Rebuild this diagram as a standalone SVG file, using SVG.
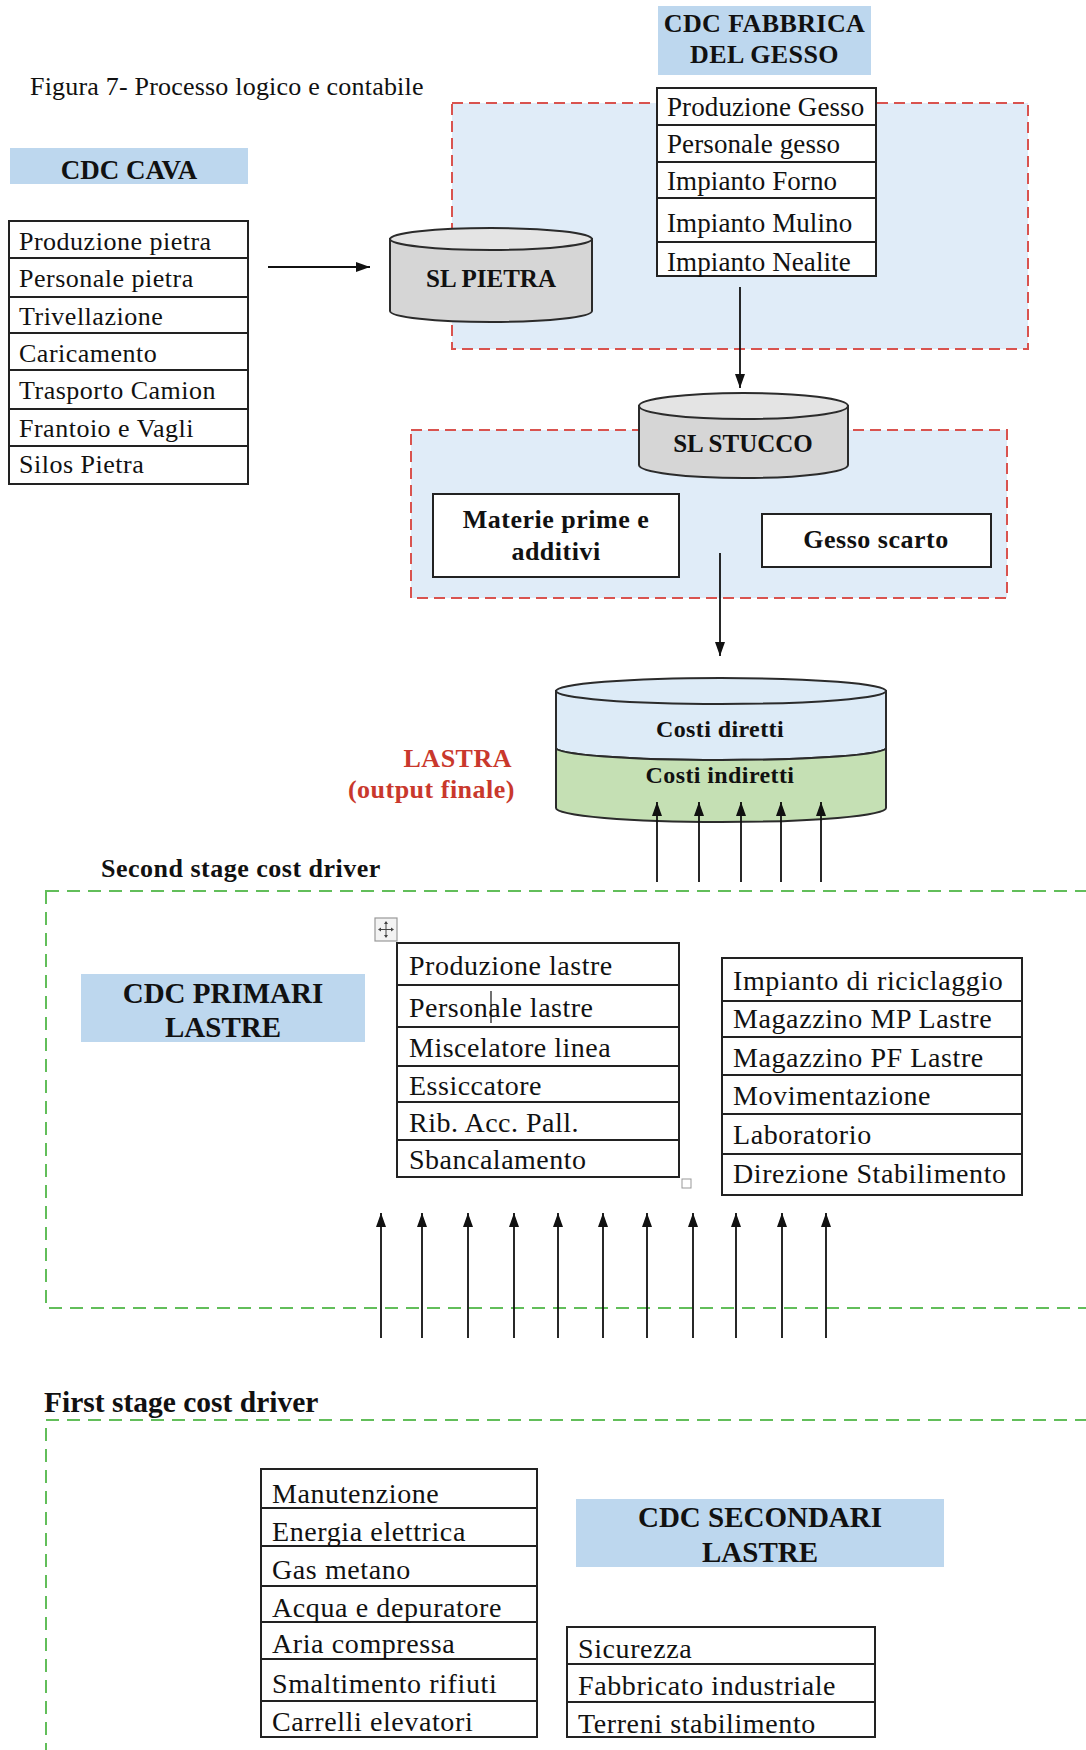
<svg xmlns="http://www.w3.org/2000/svg" width="1086" height="1750" viewBox="0 0 1086 1750">
<style>
.t{font-family:"Liberation Serif","Times New Roman",serif;fill:#111}
.r26{font-size:26px;letter-spacing:0.5px}
.r27{font-size:27px;letter-spacing:0.1px}
.r28{font-size:28px;letter-spacing:0.6px}
.b{font-weight:bold}
.c{text-anchor:middle}
.cell{fill:#fff;stroke:#222;stroke-width:2}
.lbl{fill:#BDD7EE}
.red{fill:#E0ECF8;stroke:#D9534F;stroke-width:2;stroke-dasharray:11 6}
.green{fill:none;stroke:#62BE5A;stroke-width:2;stroke-dasharray:13 8}
.cyl{stroke:#2b2b2b;stroke-width:2}
.conn line{stroke:#111;stroke-width:1.8;marker-end:url(#ah)}
</style>
<defs>
<marker id="ah" viewBox="0 0 14 10" refX="14" refY="5" markerWidth="14" markerHeight="10" markerUnits="userSpaceOnUse" orient="auto">
<path d="M0,0 L14,5 L0,10 Z" fill="#111"/>
</marker>
</defs>
<rect width="1086" height="1750" fill="#fff"/>

<text class="t" x="30" y="95" style="font-size:26px;letter-spacing:0.2px">Figura 7- Processo logico e contabile</text>

<!-- regions -->
<g id="stage2">
<rect class="green" x="46" y="891" width="1070" height="417"/>
<text class="t r26 b" x="101" y="877">Second stage cost driver</text>
</g>
<g id="stage1">
<rect class="green" x="46" y="1420" width="1070" height="400"/>
<text class="t b" x="44" y="1412" style="font-size:29.5px">First stage cost driver</text>
</g>
<g id="area-gesso"><rect class="red" x="452" y="103" width="576" height="246"/></g>
<g id="area-stucco"><rect class="red" x="411" y="430" width="596" height="168"/></g>

<!-- CDC CAVA -->
<g id="cdc-cava">
<rect class="lbl" x="10" y="148" width="238" height="36"/>
<text class="t b c" x="129" y="179" style="font-size:27px">CDC CAVA</text>
</g>
<g id="tab-cava">
<rect class="cell" x="9" y="221" width="239" height="37"/>
<rect class="cell" x="9" y="258" width="239" height="39"/>
<rect class="cell" x="9" y="297" width="239" height="36"/>
<rect class="cell" x="9" y="333" width="239" height="37"/>
<rect class="cell" x="9" y="370" width="239" height="39"/>
<rect class="cell" x="9" y="409" width="239" height="37"/>
<rect class="cell" x="9" y="446" width="239" height="38"/>
<text class="t r26" x="19" y="250">Produzione pietra</text>
<text class="t r26" x="19" y="287">Personale pietra</text>
<text class="t r26" x="19" y="325">Trivellazione</text>
<text class="t r26" x="19" y="362">Caricamento</text>
<text class="t r26" x="19" y="399">Trasporto Camion</text>
<text class="t r26" x="19" y="437">Frantoio e Vagli</text>
<text class="t r26" x="19" y="473">Silos Pietra</text>
</g>

<!-- CDC FABBRICA -->
<g id="cdc-fabbrica">
<rect class="lbl" x="658" y="6" width="213" height="69"/>
<text class="t b c" x="764.5" y="32" style="font-size:26px;letter-spacing:0.4px">CDC FABBRICA</text>
<text class="t b c" x="764.5" y="63" style="font-size:26px;letter-spacing:0.4px">DEL GESSO</text>
</g>
<g id="tab-gesso">
<rect class="cell" x="657" y="88" width="219" height="37"/>
<rect class="cell" x="657" y="125" width="219" height="37"/>
<rect class="cell" x="657" y="162" width="219" height="36"/>
<rect class="cell" x="657" y="198" width="219" height="44"/>
<rect class="cell" x="657" y="242" width="219" height="34"/>
<text class="t r27" x="667" y="116">Produzione Gesso</text>
<text class="t r27" x="667" y="153">Personale gesso</text>
<text class="t r27" x="667" y="190">Impianto Forno</text>
<text class="t r27" x="667" y="232">Impianto Mulino</text>
<text class="t r27" x="667" y="271">Impianto Nealite</text>
</g>

<!-- SL PIETRA -->
<g id="sl-pietra">
<path class="cyl" d="M390,239 V311 A101,11 0 0 0 592,311 V239 Z" fill="#D6D6D6"/>
<ellipse class="cyl" cx="491" cy="239" rx="101" ry="11" fill="#E4E4E4"/>
<text class="t b c" x="491" y="287" style="font-size:25px">SL PIETRA</text>
</g>

<!-- SL STUCCO -->
<g id="sl-stucco">
<path class="cyl" d="M639,406 V465 A104.5,13 0 0 0 848,465 V406 Z" fill="#D6D6D6"/>
<ellipse class="cyl" cx="743.5" cy="406" rx="104.5" ry="13" fill="#E4E4E4"/>
<text class="t b c" x="743" y="452" style="font-size:25px">SL STUCCO</text>
</g>

<g id="materie">
<rect class="cell" x="433" y="494" width="246" height="83"/>
<text class="t r26 b c" x="556" y="528">Materie prime e</text>
<text class="t r26 b c" x="556" y="560">additivi</text>
</g>
<g id="gesso-scarto">
<rect class="cell" x="762" y="514" width="229" height="53"/>
<text class="t r26 b c" x="876" y="548">Gesso scarto</text>
</g>

<!-- LASTRA -->
<g id="lastra">
<path class="cyl" d="M556,691 V748 A165,12 0 0 0 886,748 V691 Z" fill="#DDEBF7"/>
<path class="cyl" d="M556,748 A165,12 0 0 0 886,748 V808 A165,14 0 0 1 556,808 Z" fill="#C5E0B4"/>
<ellipse class="cyl" cx="721" cy="691" rx="165" ry="13" fill="#DDEBF7"/>
<text class="t b c" x="720" y="737" style="font-size:24px;letter-spacing:0.4px">Costi diretti</text>
<text class="t b c" x="720" y="783" style="font-size:24px;letter-spacing:0.4px">Costi indiretti</text>
</g>
<g id="lastra-label">
<text class="t r26 b" x="512" y="767" text-anchor="end" style="fill:#C9382C">LASTRA</text>
<text class="t r26 b" x="515" y="798" text-anchor="end" style="fill:#C9382C">(output finale)</text>
</g>

<!-- CDC PRIMARI -->
<g id="cdc-primari">
<rect class="lbl" x="81" y="974" width="284" height="68"/>
<text class="t b c" x="223" y="1003" style="font-size:29px">CDC PRIMARI</text>
<text class="t b c" x="223" y="1037" style="font-size:29px">LASTRE</text>
</g>
<g id="tab-primari">
<rect x="375" y="918" width="22" height="23" fill="#f3f3f3" stroke="#999" stroke-width="1.2"/>
<path d="M386,922 V937 M379,929.5 H393" stroke="#444" stroke-width="1"/>
<path d="M386,921 l-2,3 h4 Z M386,938 l-2,-3 h4 Z M378,929.5 l3,-2 v4 Z M394,929.5 l-3,-2 v4 Z" fill="#444"/>
<rect class="cell" x="397" y="943" width="282" height="42"/>
<rect class="cell" x="397" y="985" width="282" height="42"/>
<rect class="cell" x="397" y="1027" width="282" height="39"/>
<rect class="cell" x="397" y="1066" width="282" height="36"/>
<rect class="cell" x="397" y="1102" width="282" height="38"/>
<rect class="cell" x="397" y="1140" width="282" height="37"/>
<text class="t" x="409" y="975" style="font-size:28px;letter-spacing:0.5px">Produzione lastre</text>
<text class="t" x="409" y="1017" style="font-size:28px;letter-spacing:0.5px">Personale lastre</text>
<text class="t" x="409" y="1057" style="font-size:28px;letter-spacing:0.5px">Miscelatore linea</text>
<text class="t" x="409" y="1095" style="font-size:28px;letter-spacing:0.5px">Essiccatore</text>
<text class="t" x="409" y="1132" style="font-size:28px;letter-spacing:0.5px">Rib. Acc. Pall.</text>
<text class="t" x="409" y="1169" style="font-size:28px;letter-spacing:0.5px">Sbancalamento</text>
<line x1="491" y1="991" x2="491" y2="1023" stroke="#111" stroke-width="1.2"/>
<rect x="682" y="1179" width="9" height="9" fill="#fff" stroke="#999" stroke-width="1"/>
</g>
<g id="tab-servizi">
<rect class="cell" x="722" y="958" width="300" height="43"/>
<rect class="cell" x="722" y="1001" width="300" height="36"/>
<rect class="cell" x="722" y="1037" width="300" height="38"/>
<rect class="cell" x="722" y="1075" width="300" height="39"/>
<rect class="cell" x="722" y="1114" width="300" height="40"/>
<rect class="cell" x="722" y="1154" width="300" height="41"/>
<text class="t r28" x="733" y="990">Impianto di riciclaggio</text>
<text class="t r28" x="733" y="1028">Magazzino MP Lastre</text>
<text class="t r28" x="733" y="1067">Magazzino PF Lastre</text>
<text class="t r28" x="733" y="1105">Movimentazione</text>
<text class="t r28" x="733" y="1144">Laboratorio</text>
<text class="t r28" x="733" y="1183">Direzione Stabilimento</text>
</g>

<!-- First stage -->
<g id="tab-utilities">
<rect class="cell" x="261" y="1469" width="276" height="39"/>
<rect class="cell" x="261" y="1508" width="276" height="38"/>
<rect class="cell" x="261" y="1546" width="276" height="40"/>
<rect class="cell" x="261" y="1586" width="276" height="36"/>
<rect class="cell" x="261" y="1622" width="276" height="37"/>
<rect class="cell" x="261" y="1659" width="276" height="42"/>
<rect class="cell" x="261" y="1701" width="276" height="36"/>
<text class="t r28" x="272" y="1503">Manutenzione</text>
<text class="t r28" x="272" y="1541">Energia elettrica</text>
<text class="t r28" x="272" y="1579">Gas metano</text>
<text class="t r28" x="272" y="1617">Acqua e depuratore</text>
<text class="t r28" x="272" y="1653">Aria compressa</text>
<text class="t r28" x="272" y="1693">Smaltimento rifiuti</text>
<text class="t r28" x="272" y="1731">Carrelli elevatori</text>
</g>
<g id="cdc-secondari">
<rect class="lbl" x="576" y="1499" width="368" height="68"/>
<text class="t b c" x="760" y="1527" style="font-size:29px">CDC SECONDARI</text>
<text class="t b c" x="760" y="1562" style="font-size:29px">LASTRE</text>
</g>
<g id="tab-generali">
<rect class="cell" x="567" y="1627" width="308" height="37"/>
<rect class="cell" x="567" y="1664" width="308" height="38"/>
<rect class="cell" x="567" y="1702" width="308" height="35"/>
<text class="t r28" x="578" y="1658">Sicurezza</text>
<text class="t r28" x="578" y="1695">Fabbricato industriale</text>
<text class="t r28" x="578" y="1733">Terreni stabilimento</text>
</g>

<!-- connectors -->
<g id="connectors" class="conn">
<line x1="268" y1="267" x2="370" y2="267"/>
<line x1="740" y1="287" x2="740" y2="388"/>
<line x1="720" y1="553" x2="720" y2="656"/>
<line x1="657" y1="882" x2="657" y2="802"/>
<line x1="699" y1="882" x2="699" y2="802"/>
<line x1="741" y1="882" x2="741" y2="802"/>
<line x1="781" y1="882" x2="781" y2="802"/>
<line x1="821" y1="882" x2="821" y2="802"/>
<line x1="381" y1="1338" x2="381" y2="1213"/>
<line x1="422" y1="1338" x2="422" y2="1213"/>
<line x1="468" y1="1338" x2="468" y2="1213"/>
<line x1="514" y1="1338" x2="514" y2="1213"/>
<line x1="558" y1="1338" x2="558" y2="1213"/>
<line x1="603" y1="1338" x2="603" y2="1213"/>
<line x1="647" y1="1338" x2="647" y2="1213"/>
<line x1="693" y1="1338" x2="693" y2="1213"/>
<line x1="736" y1="1338" x2="736" y2="1213"/>
<line x1="782" y1="1338" x2="782" y2="1213"/>
<line x1="826" y1="1338" x2="826" y2="1213"/>
</g>
</svg>
